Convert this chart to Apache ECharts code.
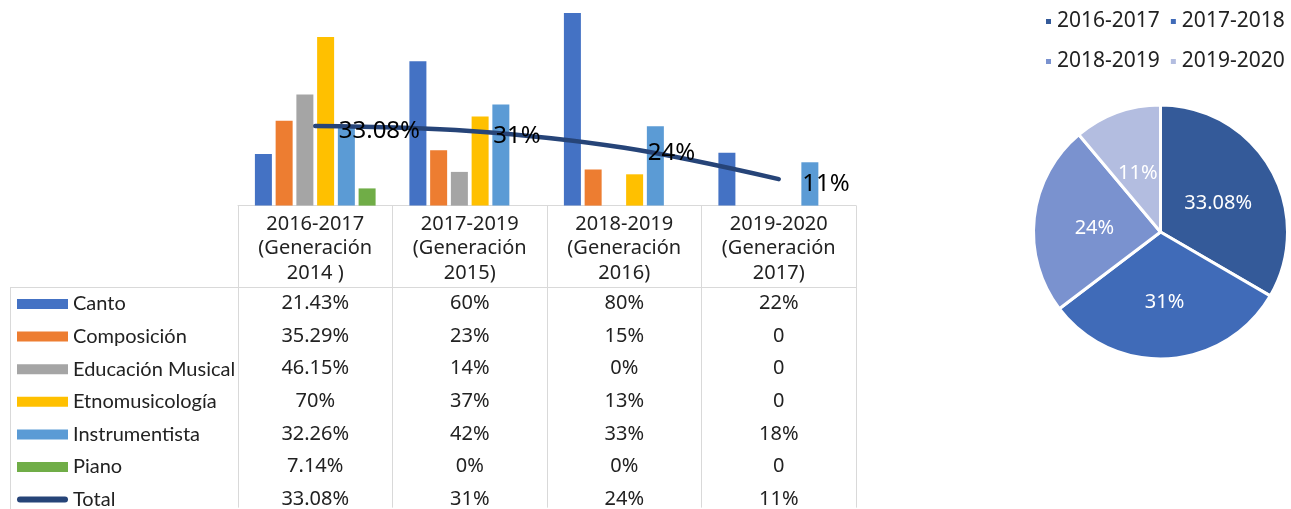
<!DOCTYPE html>
<html>
<head>
<meta charset="utf-8">
<script type="text/javascript" src="https://cdn.jsdelivr.net/npm/echarts@6/dist/echarts.min.js"></script>
<style>
html, body { margin: 0; padding: 0; background: #fff; }
#container { width: 1291px; height: 509px; }
</style>
</head>
<body>
<div id="container"></div>

<script type="text/javascript">
// table header lines per category (Excel data table)
var headers = [
	['2016-2017', '(Generación', '2014 )'],
	['2017-2019', '(Generación', '2015)'],
	['2018-2019', '(Generación', '2016)'],
	['2019-2020', '(Generación', '2017)']
];

// series as shown in the data table
var canto = ['21.43%', '60%', '80%', '22%'];
var composicion = ['35.29%', '23%', '15%', '0'];
var educacion = ['46.15%', '14%', '0%', '0'];
var etno = ['70%', '37%', '13%', '0'];
var instrumentista = ['32.26%', '42%', '33%', '18%'];
var piano = ['7.14%', '0%', '0%', '0'];
var total = ['33.08%', '31%', '24%', '11%'];

var pieNames = ['2016-2017', '2017-2018', '2018-2019', '2019-2020'];

var barSeries = [
	{ name: 'Canto', cells: canto, color: '#4472C4' },
	{ name: 'Composición', cells: composicion, color: '#ED7D31' },
	{ name: 'Educación Musical', cells: educacion, color: '#A5A5A5' },
	{ name: 'Etnomusicología', cells: etno, color: '#FFC000' },
	{ name: 'Instrumentista', cells: instrumentista, color: '#5B9BD5' },
	{ name: 'Piano', cells: piano, color: '#70AD47' }
];
var pieColors = ['#345A99', '#406BB8', '#7A92CF', '#B3BDE0'];

var font = 'Noto Sans';
var textColor = '#222';

function num(s) {
	return parseFloat(s);
}

var dom = document.getElementById('container');
var myChart = echarts.init(dom);

var tableRows = barSeries.map(function (s) { return s.cells; }).concat([total]);

var series = barSeries.map(function (s) {
	return {
		name: s.name,
		type: 'bar',
		barWidth: 17,
		barGap: '22%',
		itemStyle: { color: s.color },
		data: s.cells.map(num)
	};
});

series.push({
	name: 'Total',
	type: 'line',
	smooth: 0.35,
	symbol: 'circle',
	symbolSize: 1,
	showSymbol: true,
	lineStyle: { color: '#264478', width: 4.5, cap: 'round' },
	itemStyle: { color: '#264478' },
	label: {
		show: true,
		position: [24, 6],
		align: 'left',
		verticalAlign: 'middle',
		fontFamily: font,
		fontSize: 24,
		color: '#000',
		formatter: function (p) { return total[p.dataIndex]; }
	},
	labelLayout: { hideOverlap: false },
	data: total.map(num),
	z: 5
});

series.push({
	name: 'pie',
	type: 'pie',
	center: [1160.5, 232],
	radius: 127,
	startAngle: 90,
	clockwise: true,
	itemStyle: { borderColor: '#fff', borderWidth: 3 },
	label: {
		show: true,
		position: 'inside',
		offset: [0, 4],
		color: '#fff',
		fontFamily: font,
		fontSize: 20,
		formatter: function (p) { return total[p.dataIndex]; }
	},
	labelLine: { show: false },
	emphasis: { disabled: true },
	data: pieNames.map(function (n, i) {
		return { name: n, value: num(total[i]), itemStyle: { color: pieColors[i] } };
	})
});

var legendData = barSeries.map(function (s) {
	return { name: s.name, icon: 'rect' };
});
legendData.push({
	name: 'Total',
	icon: 'path://M3,0 L48,0 A3,3 0 0 1 48,6 L3,6 A3,3 0 0 1 3,0 Z',
	itemStyle: { color: '#264478' }
});

option = {
	animation: false,
	backgroundColor: '#fff',
	grid: { left: 238, right: 435, top: 1, bottom: 302 },
	xAxis: {
		type: 'category',
		data: headers.map(function (h) { return h.join(' '); }),
		axisLine: { lineStyle: { color: '#d9d9d9', width: 1 } },
		axisTick: { show: true, length: 302, lineStyle: { color: '#d9d9d9' } },
		axisLabel: {
			interval: 0,
			margin: 7,
			formatter: function (value, idx) {
				var h = headers[idx];
				var lines = ['{h|' + h[0] + '}', '{h|' + h[1] + '}', '{h3|' + h[2] + '}'];
				tableRows.forEach(function (row) {
					lines.push('{v|' + row[idx] + '}');
				});
				return lines.join('\n');
			},
			rich: {
				h: { fontFamily: font, fontSize: 20, color: textColor, lineHeight: 23.5 },
				h3: { fontFamily: font, fontSize: 20, color: textColor, lineHeight: 27.5 },
				v: { fontFamily: font, fontSize: 20, color: textColor, lineHeight: 32.6 }
			}
		}
	},
	yAxis: {
		type: 'value',
		show: false,
		min: 0,
		max: 85
	},
	legend: [{
		orient: 'vertical',
		left: 12,
		top: 289,
		height: 240,
		itemWidth: 51,
		itemHeight: 10,
		itemGap: 12.6,
		symbolKeepAspect: true,
		textStyle: { fontFamily: 'Lato', fontSize: 20, color: textColor, lineHeight: 20 },
		selectedMode: false,
		data: legendData
	}, {
		orient: 'horizontal',
		left: 1039,
		top: 1,
		width: 256,
		itemWidth: 7,
		itemHeight: 7,
		itemGap: 9,
		icon: 'rect',
		textStyle: { fontFamily: font, fontSize: 21, color: textColor, lineHeight: 31 },
		selectedMode: false,
		data: pieNames
	}],
	graphic: [{
		type: 'line',
		shape: { x1: 10, y1: 287.5, x2: 856, y2: 287.5 },
		style: { stroke: '#d9d9d9', lineWidth: 1 },
		silent: true
	}, {
		type: 'line',
		shape: { x1: 10.5, y1: 287.5, x2: 10.5, y2: 509 },
		style: { stroke: '#d9d9d9', lineWidth: 1 },
		silent: true
	}],
	series: series
};

if (option && typeof option === 'object') {
	myChart.setOption(option, true);
}
window.addEventListener('resize', function () {
	myChart.resize();
});
</script>
</body>
</html>
